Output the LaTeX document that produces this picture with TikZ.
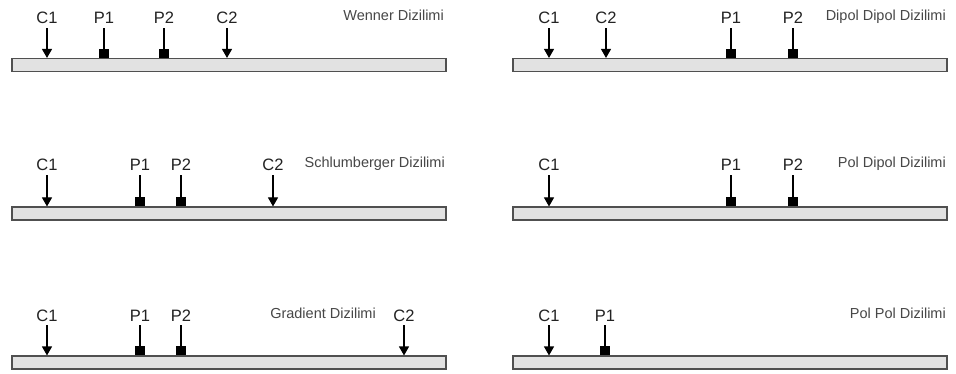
\documentclass[tikz,border=0pt]{standalone}
\usepackage{fontspec}
\setmainfont{Liberation Sans}
\usetikzlibrary{arrows.meta}
\definecolor{barfill}{HTML}{E2E2E2}
\definecolor{bardraw}{HTML}{505050}
\definecolor{lbl}{HTML}{222222}
\definecolor{ttl}{HTML}{474747}
\tikzset{
  bar/.style={draw=bardraw, fill=barfill, line width=1.1pt, minimum width=434pt, minimum height=13pt, inner sep=0pt, rectangle},
  elab/.style={font=\fontsize{16.5}{18}\selectfont, text=lbl, inner sep=0pt, anchor=base},
  ttlab/.style={font=\fontsize{14.5}{16}\selectfont, text=ttl, inner sep=0pt, anchor=base east},
  cur/.style={draw=black, line width=1.1pt, shorten <=4pt, -{Triangle[width=10pt,length=9pt]}},
  pot/.style={draw=black, line width=1.1pt, shorten <=4pt},
  potbox/.style={fill=black, minimum width=10pt, minimum height=9pt, inner sep=0pt, rectangle, anchor=south}
}
\begin{document}
\begin{tikzpicture}[x=1pt,y=-1pt]
\useasboundingbox[fill=white] (0,0) rectangle (956,374);
% ---------- Wenner ----------
\node[bar] (b1) at (229,65) {};
\node[ttlab] (t1) at (444,21) {Wenner Dizilimi};
\node[elab] (w1) at (47,24) {C1};
\node[elab] (w2) at (104,24) {P1};
\node[elab] (w3) at (164,24) {P2};
\node[elab] (w4) at (227,24) {C2};
\draw[cur] (w1.south) -- (w1.south |- b1.north);
\node[potbox] (wp1) at (w2.south |- b1.north) {};
\node[potbox] (wp2) at (w3.south |- b1.north) {};
\draw[pot] (w2.south) -- (wp1.north);
\draw[pot] (w3.south) -- (wp2.north);
\draw[cur] (w4.south) -- (w4.south |- b1.north);
% ---------- Dipol Dipol ----------
\node[bar] (b2) at (730,65) {};
\node[ttlab] (t2) at (946,21) {Dipol Dipol Dizilimi};
\node[elab] (d1) at (549,24) {C1};
\node[elab] (d2) at (606,24) {C2};
\node[elab] (d3) at (731,24) {P1};
\node[elab] (d4) at (793,24) {P2};
\draw[cur] (d1.south) -- (d1.south |- b2.north);
\draw[cur] (d2.south) -- (d2.south |- b2.north);
\node[potbox] (dp1) at (d3.south |- b2.north) {};
\node[potbox] (dp2) at (d4.south |- b2.north) {};
\draw[pot] (d3.south) -- (dp1.north);
\draw[pot] (d4.south) -- (dp2.north);
% ---------- Schlumberger ----------
\node[bar] (b3) at (229,213.5) {};
\node[ttlab] (t3) at (445,168) {Schlumberger Dizilimi};
\node[elab] (s1) at (47,171) {C1};
\node[elab] (s2) at (140,171) {P1};
\node[elab] (s3) at (181,171) {P2};
\node[elab] (s4) at (273,171) {C2};
\draw[cur] (s1.south) -- (s1.south |- b3.north);
\node[potbox] (sp1) at (s2.south |- b3.north) {};
\node[potbox] (sp2) at (s3.south |- b3.north) {};
\draw[pot] (s2.south) -- (sp1.north);
\draw[pot] (s3.south) -- (sp2.north);
\draw[cur] (s4.south) -- (s4.south |- b3.north);
% ---------- Pol Dipol ----------
\node[bar] (b4) at (730,213.5) {};
\node[ttlab] (t4) at (946,168) {Pol Dipol Dizilimi};
\node[elab] (q1) at (549,171) {C1};
\node[elab] (q2) at (731,171) {P1};
\node[elab] (q3) at (793,171) {P2};
\draw[cur] (q1.south) -- (q1.south |- b4.north);
\node[potbox] (qp1) at (q2.south |- b4.north) {};
\node[potbox] (qp2) at (q3.south |- b4.north) {};
\draw[pot] (q2.south) -- (qp1.north);
\draw[pot] (q3.south) -- (qp2.north);
% ---------- Gradient ----------
\node[bar] (b5) at (229,362.5) {};
\node[ttlab] (t5) at (376,318) {Gradient Dizilimi};
\node[elab] (g1) at (47,321) {C1};
\node[elab] (g2) at (140,321) {P1};
\node[elab] (g3) at (181,321) {P2};
\node[elab] (g4) at (404,321) {C2};
\draw[cur] (g1.south) -- (g1.south |- b5.north);
\node[potbox] (gp1) at (g2.south |- b5.north) {};
\node[potbox] (gp2) at (g3.south |- b5.north) {};
\draw[pot] (g2.south) -- (gp1.north);
\draw[pot] (g3.south) -- (gp2.north);
\draw[cur] (g4.south) -- (g4.south |- b5.north);
% ---------- Pol Pol ----------
\node[bar] (b6) at (730,362.5) {};
\node[ttlab] (t6) at (946,318) {Pol Pol Dizilimi};
\node[elab] (r1) at (549,321) {C1};
\node[elab] (r2) at (605,321) {P1};
\draw[cur] (r1.south) -- (r1.south |- b6.north);
\node[potbox] (rp1) at (r2.south |- b6.north) {};
\draw[pot] (r2.south) -- (rp1.north);
\end{tikzpicture}
\end{document}
